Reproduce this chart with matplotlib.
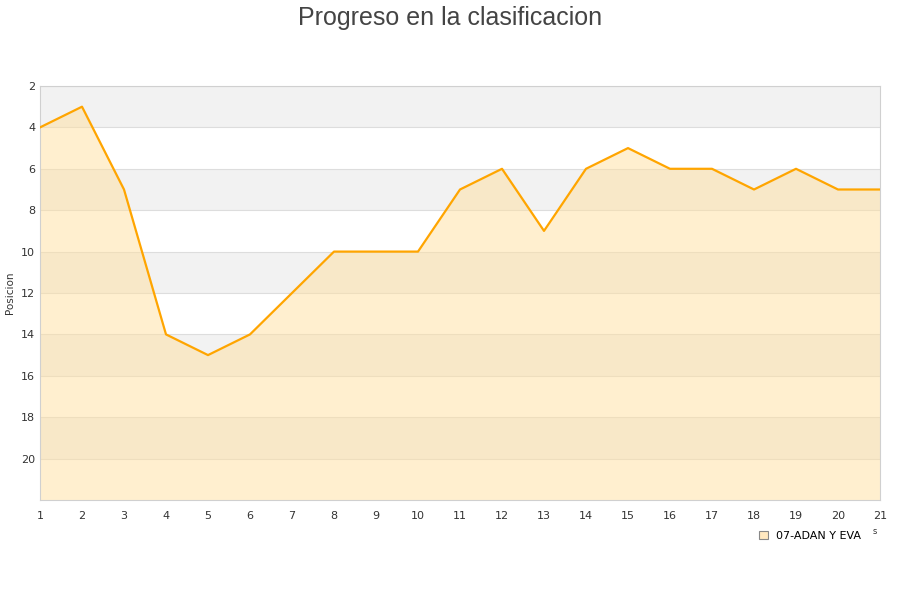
import matplotlib.pyplot as plt
from matplotlib.patches import Patch

jornadas = list(range(1, 22))
posicion = [4, 3, 7, 14, 15, 14, 12, 10, 10, 10, 7, 6, 9, 6, 5, 6, 6, 7, 6, 7, 7]
y_ticks = [2, 4, 6, 8, 10, 12, 14, 16, 18, 20]

fig = plt.figure(figsize=(9, 6), dpi=100)
ax = fig.add_axes([40 / 900, 100 / 600, 840 / 900, 414 / 600])

# bandas alternas
for y0 in range(2, 22, 4):
    ax.axhspan(y0, y0 + 2, color='#f2f2f2', zorder=0, lw=0)

ax.fill_between(jornadas, posicion, 22, color='#ffe0a0', alpha=0.5, zorder=1, lw=0)
ax.plot(jornadas, posicion, color='#ffa500', lw=1.6, zorder=3)

ax.set_xlim(1, 21)
ax.set_ylim(22, 2)
ax.set_xticks(jornadas)
ax.set_yticks(y_ticks)
ax.tick_params(length=0, labelsize=8, colors='#333333')
ax.tick_params(axis='x', pad=8)
ax.grid(axis='y', color='#dddddd', lw=0.8, zorder=0)
ax.set_axisbelow(True)
for s in ax.spines.values():
    s.set_color('#d0d0d0')

ax.set_ylabel('Posicion', fontsize=7.5, color='#333333')
ax.yaxis.set_label_coords(-25 / 840, 0.5)

fig.text(0.5, 0.99, 'Progreso en la clasificacion', ha='center', va='top',
         fontsize=18, color='#444444', family='Liberation Sans')

handle = Patch(facecolor='#ffe8c0', edgecolor='#888888', lw=0.8)
fig.legend([handle], ['07-ADAN Y EVA'], loc='center', bbox_to_anchor=(810 / 900, 1 - 536 / 600),
           frameon=False, fontsize=8, handlelength=0.8, handleheight=0.8, handletextpad=0.8)
fig.text(875 / 900, 1 - 532 / 600, 's', fontsize=6, color='#333333', ha='center', va='center')

fig.savefig('out.png')
